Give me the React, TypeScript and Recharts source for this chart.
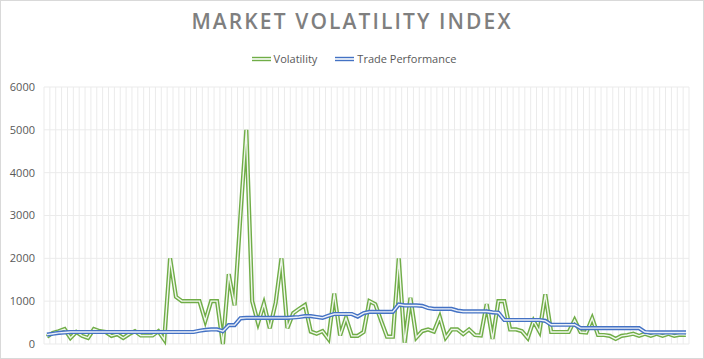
import { CartesianGrid, Line, LineChart, XAxis, YAxis } from "recharts";

const volatility = [
  170, 260, 300, 350, 140, 280, 190, 140, 350, 300,
  280, 190, 230, 140, 230, 300, 200, 200, 200, 300,
  100, 2000, 1100, 1000, 1000, 1000, 1000, 540, 1000, 1000,
  0, 1630, 900, 3000, 5000, 1000, 490, 940, 370, 960,
  2000, 370, 720, 820, 910, 290, 240, 300, 120, 1180,
  200, 610, 190, 190, 280, 1000, 930, 540, 170, 170,
  2000, 30, 1080, 150, 300, 340, 290, 630, 150, 340,
  340, 230, 340, 210, 200, 930, 120, 1000, 1000, 340,
  340, 300, 140, 540, 290, 1160, 280, 280, 280, 280,
  560, 280, 270, 600, 210, 210, 190, 120, 190, 210,
  240, 190, 240, 190, 240, 190, 240, 190, 220, 210,
];

const tradePerformance = [
  220, 240, 260, 270, 280, 280, 280, 280, 280, 280,
  280, 280, 280, 280, 280, 280, 280, 280, 280, 280,
  280, 280, 280, 280, 280, 280, 310, 330, 340, 340,
  300, 440, 440, 600, 610, 610, 610, 610, 610, 610,
  610, 610, 620, 630, 650, 650, 630, 610, 660, 700,
  700, 700, 700, 640, 720, 750, 750, 750, 750, 750,
  920, 900, 900, 900, 890, 840, 820, 820, 820, 820,
  780, 760, 760, 760, 760, 760, 740, 730, 560, 560,
  560, 560, 560, 560, 560, 540, 450, 450, 450, 450,
  450, 370, 370, 370, 370, 370, 370, 370, 370, 370,
  370, 370, 280, 270, 270, 270, 270, 270, 270, 270,
];

const yTicks = [0, 1000, 2000, 3000, 4000, 5000, 6000];
const seriesNames = ["Volatility", "Trade Performance"];

const GREEN = "#70AD47";
const BLUE = "#4472C4";
const FONT = "'Open Sans', sans-serif";

const data = volatility.map((v, i) => ({
  day: i + 1,
  volatility: v,
  trade: tradePerformance[i],
}));

function LegendIcon({ color }: { color: string }) {
  return (
    <svg width={19} height={8} style={{ marginRight: 3 }}>
      <line x1={0} y1={2.5} x2={19} y2={2.5} stroke={color} strokeWidth={1.4} />
      <line x1={0} y1={5.5} x2={19} y2={5.5} stroke={color} strokeWidth={1.4} />
    </svg>
  );
}

export default function App() {
  return (
    <div style={{ position: "fixed", left: 0, top: 0, width: 704, height: 359, background: "#fff" }}>
      <div
        style={{
          position: "absolute",
          top: 7,
          left: 0,
          width: 704,
          textAlign: "center",
          fontFamily: FONT,
          fontWeight: 600,
          fontSize: 21,
          letterSpacing: 2.1,
          color: "#7f7f7f",
        }}
      >
        MARKET VOLATILITY INDEX
      </div>
      <div
        style={{
          position: "absolute",
          top: 51,
          left: 2,
          width: 704,
          display: "flex",
          justifyContent: "center",
          alignItems: "center",
          fontFamily: FONT,
          fontSize: 11,
          color: "#595959",
        }}
      >
        <span style={{ display: "flex", alignItems: "center", marginRight: 18 }}>
          <LegendIcon color={GREEN} />
          {seriesNames[0]}
        </span>
        <span style={{ display: "flex", alignItems: "center" }}>
          <LegendIcon color={BLUE} />
          {seriesNames[1]}
        </span>
      </div>
      <div style={{ position: "absolute", left: 0, top: 0 }}>
        <LineChart width={704} height={359} data={data} margin={{ top: 87, right: 15, bottom: 15, left: 0 }}>
          <CartesianGrid
            stroke="#ebebeb"
            verticalCoordinatesGenerator={({ offset }: any) =>
              data.map((_, i) => offset.left + (i * offset.width) / data.length).concat(offset.left + offset.width)
            }
          />
          <XAxis
            dataKey="day"
            padding={{ left: 3, right: 3 }}
            tick={false}
            tickLine={false}
            height={0}
            axisLine={{ stroke: "#d9d9d9" }}
          />
          <YAxis
            domain={[0, 6000]}
            ticks={yTicks}
            width={44}
            axisLine={false}
            tickLine={false}
            tickMargin={3}
            tick={{ fill: "#595959", fontSize: 11, fontFamily: FONT }}
          />
          <Line dataKey="volatility" stroke={GREEN} strokeWidth={4.2} dot={false} activeDot={false} isAnimationActive={false} />
          <Line dataKey="volatility" stroke="#ffffff" strokeOpacity={0.9} strokeWidth={1.4} dot={false} activeDot={false} isAnimationActive={false} />
          <Line dataKey="trade" stroke={BLUE} strokeWidth={4.2} dot={false} activeDot={false} isAnimationActive={false} />
          <Line dataKey="trade" stroke="#ffffff" strokeOpacity={0.9} strokeWidth={1.4} dot={false} activeDot={false} isAnimationActive={false} />
        </LineChart>
      </div>
      <div
        style={{
          position: "absolute",
          left: 0,
          top: 0,
          width: 704,
          height: 359,
          boxSizing: "border-box",
          border: "1px solid #d9d9d9",
          pointerEvents: "none",
        }}
      />
    </div>
  );
}
